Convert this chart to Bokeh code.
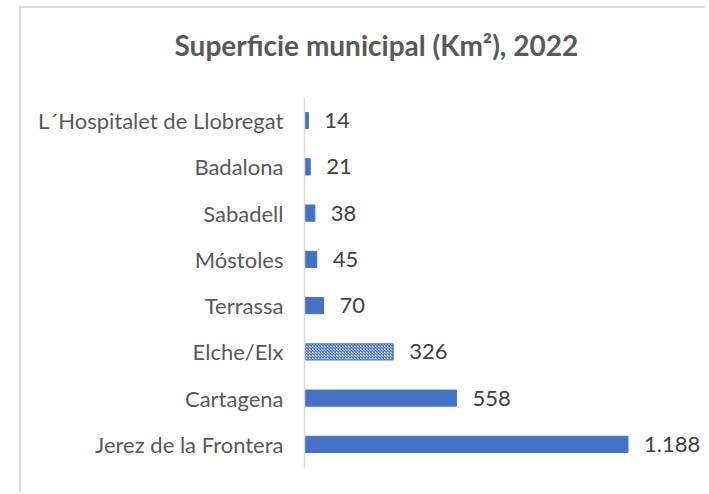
from bokeh.plotting import figure
from bokeh.models import Range1d, FactorRange, ColumnDataSource, LabelSet, Title
from bokeh.embed import file_html
from bokeh.resources import INLINE
from bokeh.core.properties import value

# ---- data (bottom to top) ----
cities = ["Jerez de la Frontera", "Cartagena", "Elche/Elx", "Terrassa",
          "Móstoles", "Sabadell", "Badalona", "L´Hospitalet de Llobregat"]
areas = [1188, 558, 326, 70, 45, 38, 21, 14]
value_labels = ["1.188", "558", "326", "70", "45", "38", "21", "14"]
highlighted = ["Elche/Elx"]
title_text = "Superficie municipal (Km²), 2022"

BLUE = "#4472c4"
fills = ["white" if c in highlighted else BLUE for c in cities]
hatches = ["diagonal_cross" if c in highlighted else " " for c in cities]

src = ColumnDataSource(dict(city=cities, area=areas, lab=value_labels,
                            fill=fills, hatch=hatches))

p = figure(width=686, height=486, output_backend="svg", toolbar_location=None,
           title=None,
           y_range=FactorRange(factors=cities, range_padding=0),
           x_range=Range1d(0, 1480),
           min_border_left=283, min_border_right=0,
           min_border_top=89, min_border_bottom=27)
p.margin = (6, 0, 0, 19)
p.styles = {"border-left": "2px solid #d9d9d9", "border-top": "2px solid #d9d9d9"}

# spacer panel between plot area and title, then the title itself
spacer = Title(text=" ", text_font_size="1px", standoff=33)
main_title = Title(text=title_text, align="left", offset=-130, standoff=0,
                   text_line_height=0.8, text_font="Lato", text_font_style="bold",
                   text_font_size="28px", text_color="#595959")
p.add_layout(spacer, "above")
p.add_layout(main_title, "above")

p.hbar(y="city", right="area", left=0, height=0.35, source=src,
       fill_color="fill", line_color=BLUE, line_width=1,
       hatch_pattern="hatch", hatch_color=BLUE, hatch_scale=3, hatch_weight=1.5)

p.add_layout(LabelSet(x="area", y="city", text="lab", source=src,
                      x_offset=16, text_baseline="middle",
                      text_font=value("Lato"), text_font_size="22px",
                      text_color="#404040"))

p.xaxis.visible = False
ya = p.yaxis[0]
ya.major_tick_line_color = None
ya.minor_tick_line_color = None
ya.axis_line_color = "#d9d9d9"
ya.axis_line_width = 1.5
ya.major_label_text_font = "Lato"
ya.major_label_text_font_size = "22px"
ya.major_label_text_color = "#595959"
ya.major_label_standoff = 15

p.xgrid.visible = False
p.ygrid.visible = False
p.outline_line_color = None
p.background_fill_color = "white"
p.border_fill_color = "white"

open("out.html", "w").write(file_html(p, INLINE))
